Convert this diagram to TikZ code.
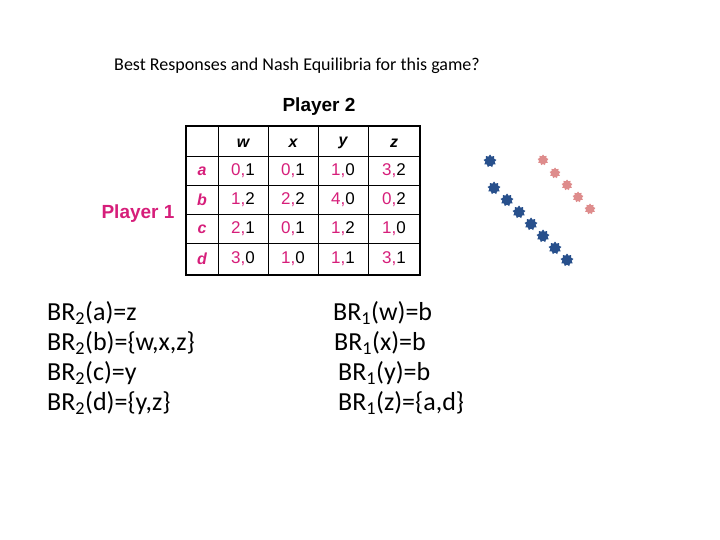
\documentclass[tikz,border=0pt]{standalone}
\usepackage{fontspec}
\setmainfont{Carlito}
\newfontfamily\tabfont{Liberation Sans}
\usetikzlibrary{positioning,shapes.geometric}
\definecolor{pmag}{RGB}{214,30,122}
\definecolor{pblue}{RGB}{40,80,140}
\definecolor{ppink}{RGB}{222,140,140}
\tikzset{
    cellnum/.style={font=\tabfont\fontsize{17}{19}\selectfont},
    cellhead/.style={font=\tabfont\bfseries\itshape\fontsize{16}{18}\selectfont},
    brtext/.style={anchor=west, inner sep=0pt, font=\fontsize{26}{30}\selectfont},
    blob/.style={star, star points=9, star point ratio=1.4, fill=#1, inner sep=0pt, minimum size=13pt}
}
\begin{document}
\begin{tikzpicture}[x=1pt,y=-1pt]
    \useasboundingbox (0,0) rectangle (720,540);
    \node[font=\fontsize{18}{20}\selectfont] (title) at (297,66) {Best Responses and Nash Equilibria for this game?};

    % payoff table
    \draw[line width=1.5pt] (186,126) rectangle (420,275);
    \foreach \x in {218,268,318,368} \draw (\x,126) -- (\x,275);
    \foreach \y in {156,185,214,243} \draw (186,\y) -- (420,\y);
    \foreach \c/\x in {w/243,x/293,y/343,z/394}
        \node[cellhead] (head\c) at (\x,143) {\c};
    \foreach \r/\y in {a/171,b/200,c/229,d/259}
        \node[cellhead, text=pmag] (row\r) at (202,\y) {\r};
    \foreach \r/\y/\pw/\qw/\px/\qx/\py/\qy/\pz/\qz in
        {a/171/0/1/0/1/1/0/3/2, b/200/1/2/2/2/4/0/0/2, c/229/2/1/0/1/1/2/1/0, d/259/3/0/1/0/1/1/3/1}{
        \node[cellnum] (cell\r w) at (243,\y) {\textcolor{pmag}{\pw,}\qw};
        \node[cellnum] (cell\r x) at (293,\y) {\textcolor{pmag}{\px,}\qx};
        \node[cellnum] (cell\r y) at (343,\y) {\textcolor{pmag}{\py,}\qy};
        \node[cellnum] (cell\r z) at (394,\y) {\textcolor{pmag}{\pz,}\qz};
    }
    \node[font=\tabfont\bfseries\fontsize{19}{21}\selectfont] (player2) at (319,107) {Player 2};
    \node[font=\tabfont\bfseries\fontsize{19}{21}\selectfont, text=pmag] (player1) at (138,214) {Player 1};

    % best responses
    \node[brtext] (bra) at (47,313) {BR\textsubscript{2}(a)=z};
    \node[brtext] (brb) at (47,343) {BR\textsubscript{2}(b)=\{w,x,z\}};
    \node[brtext] (brc) at (47,373) {BR\textsubscript{2}(c)=y};
    \node[brtext] (brd) at (47,403) {BR\textsubscript{2}(d)=\{y,z\}};
    \node[brtext] (brw) at (333,313) {BR\textsubscript{1}(w)=b};
    \node[brtext] (brx) at (334,343) {BR\textsubscript{1}(x)=b};
    \node[brtext] (bry) at (338,373) {BR\textsubscript{1}(y)=b};
    \node[brtext] (brz) at (338,403) {BR\textsubscript{1}(z)=\{a,d\}};

    % blobs
    \foreach \x/\y [count=\i] in {490/161,494/188,507/200,519/212,531/224,543/236,555/248,567/260}
        \node[blob=pblue] (blue\i) at (\x,\y) {};
    \foreach \x/\y [count=\i] in {543/160,555/173,567/185,578/197,590/209}
        \node[blob=ppink, minimum size=11pt] (pink\i) at (\x,\y) {};
\end{tikzpicture}
\end{document}
